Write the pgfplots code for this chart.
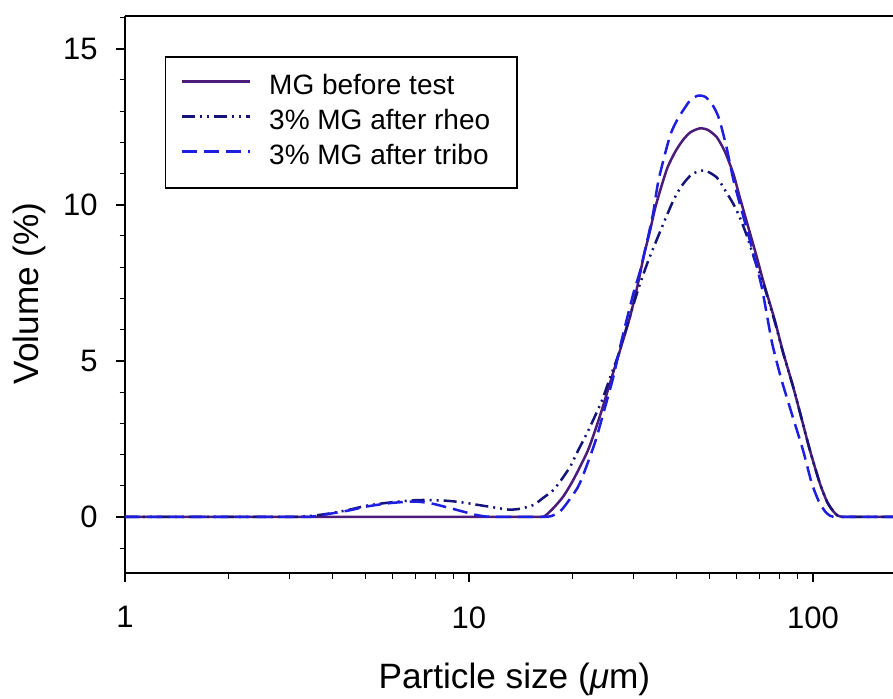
\documentclass[border=0pt]{standalone}
\usepackage{fontspec}
\setmainfont{Liberation Sans}
\usepackage{pgfplots}
\pgfplotsset{compat=1.18}
\definecolor{cPurple}{HTML}{4B1C7A}
\definecolor{cNavy}{HTML}{14147A}
\definecolor{cBlue}{HTML}{1E1EE0}

\pgfplotstableread{
x y
1 0
1.5 0
2.2 0
3.2 0
4.5 0
6.5 0
9 0
11.5 0
13.5 0
15 0
16 0
16.6 0.02
17.6 0.28
18.8 0.65
20.1 1.18
22.2 2.14
24.0 3.21
25.7 4.28
27.5 5.34
29.4 6.41
31.0 7.47
32.3 8.4
33.5 9.1
34.8 9.9
36.3 10.6
37.8 11.2
39.8 11.7
41.8 12.06
44.0 12.32
46.9 12.45
49.5 12.4
52.6 12.16
55.5 11.7
58.7 11.0
61.3 10.24
65.3 9.18
68.6 8.35
71.2 7.68
73.3 7.2
77.5 6.3
81.8 5.3
87.7 4.15
92.7 3.15
98.0 2.14
104.8 1.07
110 0.48
114.6 0.18
118 0.04
122 0
127 0
135 0
145 0
158 0
171 0
}\solid

\pgfplotstableread{
x y
1 0
1.5 0
2.1 0
2.7 0
3.2 0
3.6 0.05
4 0.12
4.5 0.23
5 0.35
5.5 0.42
6 0.47
6.7 0.52
7.35 0.54
8.5 0.52
9.3 0.48
10 0.43
10.8 0.37
12 0.29
13.1 0.23
14.1 0.26
15.4 0.38
16.4 0.6
17.6 0.86
18.6 1.2
19.7 1.61
20.8 2.14
22.2 2.75
24.3 3.7
25.7 4.45
27.2 5.2
29.5 6.5
31.4 7.45
33.2 8.2
35.1 8.86
37.1 9.5
39.3 10.14
41.5 10.6
44.5 10.98
48.4 11.1
52.5 10.88
55.6 10.46
58.7 10.03
61.3 9.6
64.5 8.96
67.8 8.22
71.2 7.6
73.3 7.15
77.5 6.25
81.8 5.28
87.7 4.15
92.7 3.15
98.0 2.14
104.8 1.07
110 0.48
114.6 0.18
118 0.04
122 0
127 0
135 0
145 0
158 0
171 0
}\rheo

\pgfplotstableread{
x y
1 0
1.5 0
2.1 0
2.7 0
3.1 0
3.45 0
3.94 0.1
4.5 0.21
5.04 0.33
5.89 0.44
6.89 0.49
7.7 0.44
8.81 0.28
9.83 0.14
10.5 0.06
11.2 0.01
11.8 0
12.6 0
13.5 0
14.5 0
15.5 0
16.5 0
17.3 0.02
18.4 0.17
19.6 0.55
21.0 1.07
23.2 2.35
24.9 3.53
26.3 4.49
27.8 5.66
30.05 7.15
31.4 7.85
33.0 8.86
34.3 9.71
35.6 10.8
38.3 12.16
40.0 12.65
41.8 13.0
44.0 13.35
46.4 13.5
48.8 13.45
51.4 13.15
53.4 12.75
56.1 11.84
58.8 10.78
62.5 9.7
67.1 8.45
70.9 7.4
73.3 6.55
76.0 5.6
79.0 4.85
82.0 4.2
87.7 3.15
93.8 2.1
99.1 1.1
104 0.5
108.4 0.18
112 0.04
114.6 0
120 0
127 0
135 0
145 0
158 0
171 0
}\tribo

\begin{document}
\begin{tikzpicture}
\begin{axis}[
  scale only axis, width=384pt, height=278.5pt,
  xmode=log, xmin=1, xmax=171, ymin=-1.8, ymax=16.05,
  axis x line*=box, axis y line*=left,
  xtick pos=left, ytick pos=left,
  xtick={1,10,100}, xticklabels={1,10,100},
  minor xtick={2,3,4,5,6,7,8,9,20,30,40,50,60,70,80,90},
  ytick={0,5,10,15}, yticklabels={0,5,10,15},
  minor ytick={-1,1,2,3,4,6,7,8,9,11,12,13,14,16},
  tick align=outside,
  major tick length=4.5pt, minor tick length=2.75pt,
  every tick/.style={black, line width=0.8pt},
  every minor tick/.style={black, line width=0.5pt},
  axis line style={line width=1pt, black},
  tick label style={font=\fontsize{15.5}{18}\selectfont, inner sep=0pt},
  xticklabel style={anchor=north, yshift=-12pt},
  yticklabel style={anchor=east, xshift=-9pt},
  xlabel={Particle size (\textit{μ}m)},
  ylabel={Volume (\%)},
  label style={font=\fontsize{17.6}{20}\selectfont},
  xlabel style={at={(axis description cs:0.507,0)}, anchor=base, yshift=-57.5pt},
  ylabel style={at={(axis description cs:0,0.502)}, anchor=center, yshift=48pt},
  legend cell align=left,
  legend style={at={(axis description cs:0.052,0.928)}, anchor=north west,
    draw=black, line width=0.75pt, font=\fontsize{14}{17}\selectfont,
    inner xsep=7.5pt, inner ysep=8.5pt, row sep=4pt, column sep=9pt,
    nodes={inner xsep=0pt, inner ysep=0pt, text height=10.5pt, text depth=3pt}},
  legend image code/.code={\draw[#1] plot coordinates {(0pt,0.3em) (34pt,0.3em)};},
  clip=true,
]
\addplot[cPurple, line width=1.25pt, smooth, tension=0.4] table[x=x,y=y] {\solid};
\addlegendentry{MG before test}
\addplot[cNavy, line width=1.25pt, smooth, tension=0.4, dash pattern=on 6.5pt off 2.5pt on 1pt off 2.5pt on 1pt off 2.5pt] table[x=x,y=y] {\rheo};
\addlegendentry{3\% MG after rheo\hspace*{6pt}}
\addplot[cBlue, line width=1.25pt, smooth, tension=0.4, dash pattern=on 7.5pt off 3.5pt] table[x=x,y=y] {\tribo};
\addlegendentry{3\% MG after tribo}
\end{axis}
\pgfresetboundingbox
\path[use as bounding box] ([xshift=-62.5pt,yshift=-62.5pt]current axis.south west) rectangle ([yshift=8pt]current axis.north east);
\end{tikzpicture}
\end{document}
